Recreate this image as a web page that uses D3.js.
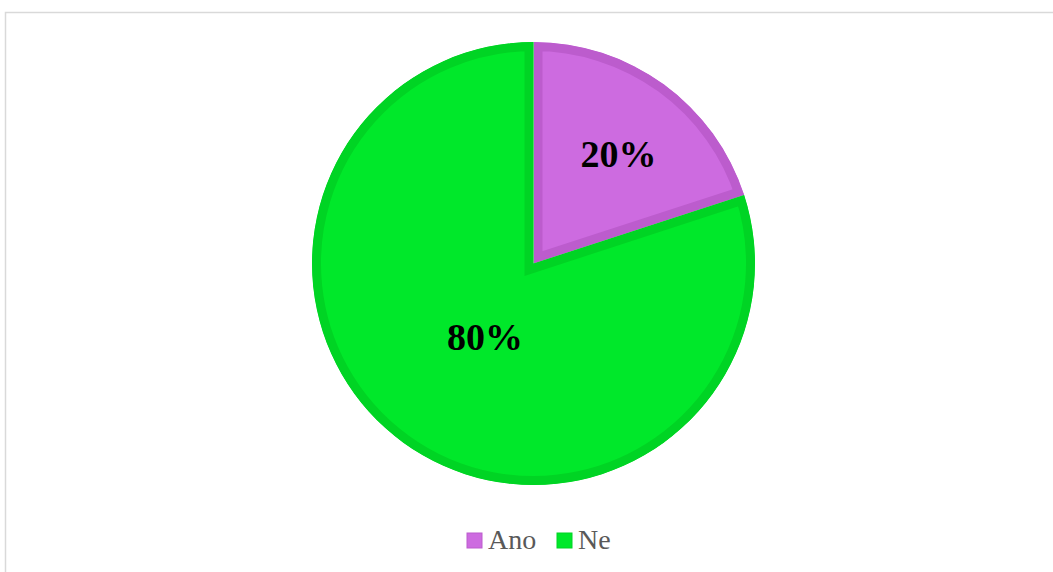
<!DOCTYPE html>
<html>
<head>
<meta charset="utf-8">
<script src="https://cdn.jsdelivr.net/npm/d3@7"></script>
<style>
  html, body { margin: 0; padding: 0; background: #fff; }
  svg { display: block; }
</style>
</head>
<body>
<svg id="chart" width="1053" height="572"></svg>
<script>
// Survey answers
const categories = ["Ano", "Ne"];
const values = [20, 80];
const fillColors = ["#CD6BE0", "#00E82A"];
const strokeColors = ["#BC5CCD", "#00D424"];

const svg = d3.select("#chart");
const W = 1053, H = 572;

// chart frame
svg.append("rect")
  .attr("x", 5.5).attr("y", 12.5)
  .attr("width", W + 20).attr("height", H + 20)
  .attr("fill", "#fff")
  .attr("stroke", "#d9d9d9").attr("stroke-width", 1.5);

const cx = 533.5, cy = 263.5, r = 221.5;
const strokeW = 9;

const pie = d3.pie().sort(null).value(d => d.value);
const data = pie(categories.map((c, i) => ({ cat: c, value: values[i], i })));
const arc = d3.arc().innerRadius(0).outerRadius(r);

const g = svg.append("g").attr("transform", `translate(${cx},${cy})`);
const defs = svg.append("defs");

data.forEach((d, i) => {
  defs.append("clipPath").attr("id", "clip" + i)
    .append("path").attr("d", arc(d));
});

// slices with border drawn on the inside edge
g.selectAll("path.slice")
  .data(data)
  .join("path")
  .attr("class", "slice")
  .attr("d", arc)
  .attr("fill", d => fillColors[d.data.i])
  .attr("stroke", d => strokeColors[d.data.i])
  .attr("stroke-width", strokeW * 2)
  .attr("stroke-linejoin", "miter")
  .attr("clip-path", d => `url(#clip${d.data.i})`);

// percentage labels
const total = d3.sum(values);
const labelRadius = d => (d.endAngle - d.startAngle) < Math.PI ? r * 0.615 : r * 0.41;
g.selectAll("text.pct")
  .data(data)
  .join("text")
  .attr("class", "pct")
  .attr("transform", d => {
    const a = (d.startAngle + d.endAngle) / 2;
    const lr = labelRadius(d);
    return `translate(${Math.sin(a) * lr + 5},${-Math.cos(a) * lr})`;
  })
  .attr("text-anchor", "middle")
  .attr("dy", "0.35em")
  .attr("font-family", "'Liberation Serif', 'Times New Roman', serif")
  .attr("font-weight", "bold")
  .attr("font-size", 38)
  .attr("fill", "#000")
  .text(d => Math.round(d.data.value / total * 100) + "%");

// legend
const legend = svg.append("g").attr("transform", "translate(467,533)");
const legendX = [0, 90];
categories.forEach((c, i) => {
  const item = legend.append("g").attr("transform", `translate(${legendX[i]},0)`);
  item.append("rect")
    .attr("width", 15).attr("height", 15)
    .attr("fill", fillColors[i])
    .attr("stroke", strokeColors[i]).attr("stroke-width", 1);
  item.append("text")
    .attr("x", 21).attr("y", 16)
    .attr("font-family", "'Liberation Serif', 'Times New Roman', serif")
    .attr("font-size", 28)
    .attr("fill", "#595959")
    .text(c);
});
</script>
</body>
</html>
